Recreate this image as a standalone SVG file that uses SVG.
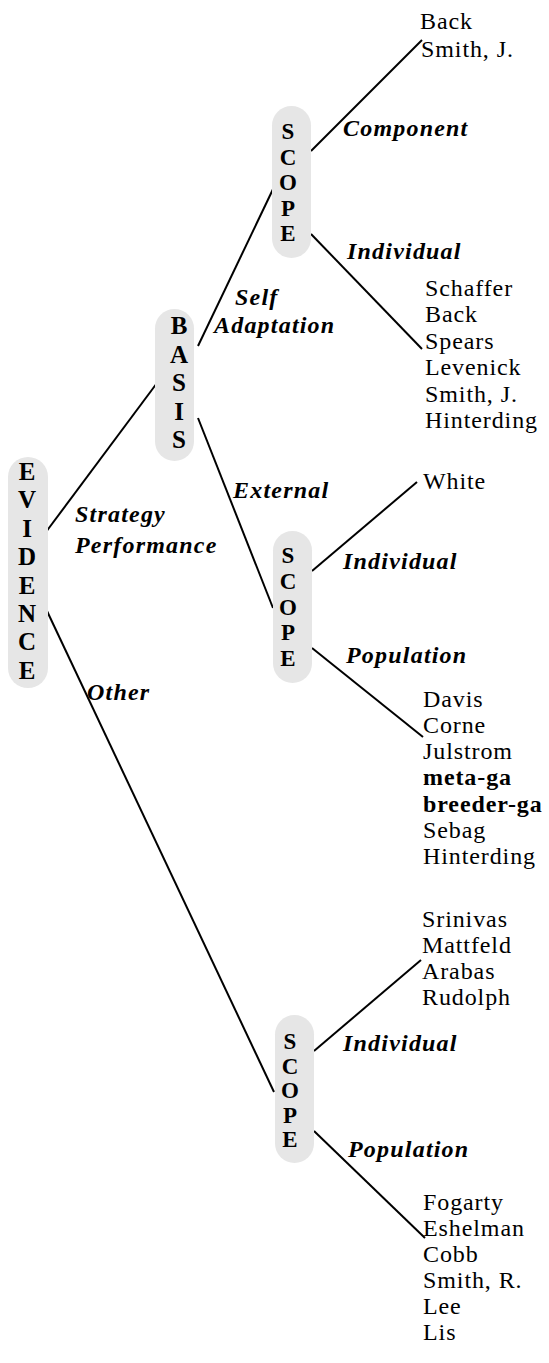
<svg xmlns="http://www.w3.org/2000/svg" width="549" height="1363" viewBox="0 0 549 1363">
<style>
.pill{fill:#e6e6e6;}
.pl{font-family:"Liberation Serif","Times New Roman",serif;font-weight:bold;font-size:23px;text-anchor:middle;fill:#000;}
.ev{font-size:25px;}
.lab{font-family:"Liberation Serif","Times New Roman",serif;font-weight:bold;font-style:italic;font-size:24px;letter-spacing:1.2px;fill:#000;}
.nm{font-family:"Liberation Serif","Times New Roman",serif;font-size:24px;letter-spacing:0.9px;fill:#000;}
.b{font-weight:bold;}
.c{stroke:#000;stroke-width:2;fill:none;}
</style>
<rect width="549" height="1363" fill="#fff"/>
<g id="connectors">
<line class="c" x1="43" y1="536" x2="157" y2="383"/>
<line class="c" x1="47" y1="611" x2="274" y2="1092"/>
<line class="c" x1="198" y1="346" x2="275" y2="185"/>
<line class="c" x1="198" y1="418" x2="273" y2="608"/>
<line class="c" x1="311" y1="151" x2="422" y2="40"/>
<line class="c" x1="311" y1="234" x2="422" y2="349"/>
<line class="c" x1="312" y1="571" x2="417" y2="482"/>
<line class="c" x1="312" y1="648" x2="423" y2="737"/>
<line class="c" x1="314" y1="1051" x2="421" y2="960"/>
<line class="c" x1="314" y1="1131" x2="425" y2="1238"/>
</g>
<g id="labels">
<text class="lab" x="343" y="136">Component</text>
<text class="lab" x="347" y="259">Individual</text>
<text class="lab" x="235" y="305">Self</text>
<text class="lab" x="214" y="333">Adaptation</text>
<text class="lab" x="233" y="498">External</text>
<text class="lab" x="343" y="569">Individual</text>
<text class="lab" x="346" y="663">Population</text>
<text class="lab" x="75" y="522">Strategy</text>
<text class="lab" x="75" y="553">Performance</text>
<text class="lab" x="87" y="700">Other</text>
<text class="lab" x="343" y="1051">Individual</text>
<text class="lab" x="348" y="1157">Population</text>
</g>
<g id="evidence">
<rect class="pill" x="8" y="457" width="40" height="231" rx="20"/>
<text class="pl ev" x="27" y="480">E</text>
<text class="pl ev" x="27" y="508.4">V</text>
<text class="pl ev" x="27" y="536.8">I</text>
<text class="pl ev" x="27" y="565.2">D</text>
<text class="pl ev" x="27" y="593.6">E</text>
<text class="pl ev" x="27" y="622">N</text>
<text class="pl ev" x="27" y="650.4">C</text>
<text class="pl ev" x="27" y="678.8">E</text>
</g>
<g id="basis">
<rect class="pill" x="155" y="309" width="39" height="152" rx="19.5"/>
<text class="pl ev" x="179" y="334">B</text>
<text class="pl ev" x="179" y="362.5">A</text>
<text class="pl ev" x="179" y="391">S</text>
<text class="pl ev" x="179" y="419.5">I</text>
<text class="pl ev" x="179" y="448">S</text>
</g>
<g id="scope-top">
<rect class="pill" x="272" y="106" width="39" height="152" rx="19.5"/>
<text class="pl" x="288" y="139">S</text>
<text class="pl" x="288" y="164.5">C</text>
<text class="pl" x="288" y="190">O</text>
<text class="pl" x="288" y="215.5">P</text>
<text class="pl" x="288" y="241">E</text>
</g>
<g id="scope-mid">
<rect class="pill" x="273" y="531" width="39" height="152" rx="19.5"/>
<text class="pl" x="288" y="563">S</text>
<text class="pl" x="288" y="589">C</text>
<text class="pl" x="288" y="614.5">O</text>
<text class="pl" x="288" y="640">P</text>
<text class="pl" x="288" y="666">E</text>
</g>
<g id="scope-bottom">
<rect class="pill" x="275" y="1015" width="39" height="148" rx="19.5"/>
<text class="pl" x="290" y="1049">S</text>
<text class="pl" x="290" y="1073.5">C</text>
<text class="pl" x="290" y="1098">O</text>
<text class="pl" x="290" y="1122.5">P</text>
<text class="pl" x="290" y="1147">E</text>
</g>
<g id="list-component">
<text class="nm" x="420" y="29">Back</text>
<text class="nm" x="421" y="57">Smith, J.</text>
</g>
<g id="list-individual-self">
<text class="nm" x="425" y="296">Schaffer</text>
<text class="nm" x="425" y="322">Back</text>
<text class="nm" x="425" y="348.5">Spears</text>
<text class="nm" x="425" y="375">Levenick</text>
<text class="nm" x="425" y="401.5">Smith, J.</text>
<text class="nm" x="425" y="428">Hinterding</text>
</g>
<g id="list-individual-ext">
<text class="nm" x="423" y="488.5">White</text>
</g>
<g id="list-population-ext">
<text class="nm" x="423" y="706.5">Davis</text>
<text class="nm" x="423" y="732.5">Corne</text>
<text class="nm" x="423" y="758.5">Julstrom</text>
<text class="nm b" x="423" y="785">meta-ga</text>
<text class="nm b" x="423" y="811.5">breeder-ga</text>
<text class="nm" x="423" y="837.5">Sebag</text>
<text class="nm" x="423" y="863.5">Hinterding</text>
</g>
<g id="list-individual-other">
<text class="nm" x="422" y="926.5">Srinivas</text>
<text class="nm" x="422" y="952.5">Mattfeld</text>
<text class="nm" x="422" y="978.5">Arabas</text>
<text class="nm" x="422" y="1004.5">Rudolph</text>
</g>
<g id="list-population-other">
<text class="nm" x="423" y="1210">Fogarty</text>
<text class="nm" x="423" y="1236">Eshelman</text>
<text class="nm" x="423" y="1262">Cobb</text>
<text class="nm" x="423" y="1288">Smith, R.</text>
<text class="nm" x="423" y="1314">Lee</text>
<text class="nm" x="423" y="1340">Lis</text>
</g>
</svg>
